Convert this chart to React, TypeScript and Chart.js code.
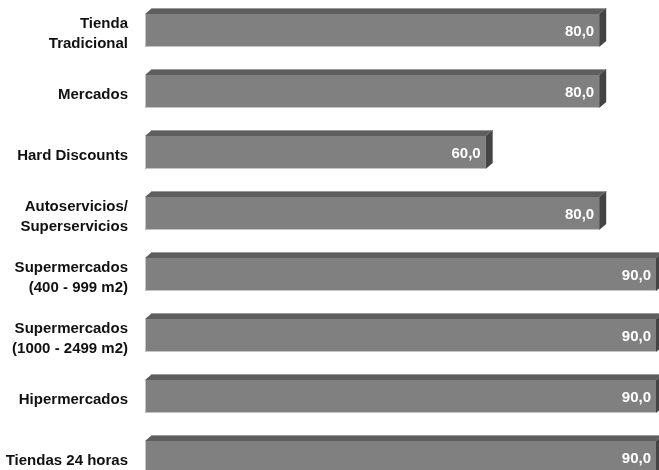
import React, { useEffect, useRef } from "react";
import { Chart, registerables } from "chart.js";

Chart.register(...registerables);

const categories: (string | string[])[] = [
  ["Tienda", "Tradicional"],
  "Mercados",
  "Hard Discounts",
  ["Autoservicios/", "Superservicios"],
  ["Supermercados", "(400 - 999 m2)"],
  ["Supermercados", "(1000 - 2499 m2)"],
  "Hipermercados",
  "Tiendas 24 horas",
];
const values: number[] = [80, 80, 60, 80, 90, 90, 90, 90];

const FONT = "'Liberation Sans', Arial, sans-serif";

const bar3d = {
  id: "bar3d",
  afterDatasetsDraw(chart: any) {
    const ctx = chart.ctx;
    const meta = chart.getDatasetMeta(0);
    const dx = 7;
    const dy = 6;
    ctx.save();
    meta.data.forEach((el: any, i: number) => {
      const p = el.getProps(["x", "y", "base", "height"], true);
      const left = Math.min(p.base, p.x);
      const right = Math.max(p.base, p.x);
      const top = p.y - p.height / 2;
      const bottom = p.y + p.height / 2;
      // top face
      ctx.beginPath();
      ctx.moveTo(left, top);
      ctx.lineTo(left + dx, top - dy);
      ctx.lineTo(right + dx, top - dy);
      ctx.lineTo(right, top);
      ctx.closePath();
      ctx.fillStyle = "#5e5e5e";
      ctx.fill();
      // light top edge
      ctx.beginPath();
      ctx.moveTo(left + dx, top - dy + 0.5);
      ctx.lineTo(right + dx, top - dy + 0.5);
      ctx.strokeStyle = "#9a9a9a";
      ctx.lineWidth = 1;
      ctx.stroke();
      // side face
      ctx.beginPath();
      ctx.moveTo(right, top);
      ctx.lineTo(right + dx, top - dy);
      ctx.lineTo(right + dx, bottom - dy);
      ctx.lineTo(right, bottom);
      ctx.closePath();
      ctx.fillStyle = "#444444";
      ctx.fill();
      // light bottom / left edges of front
      ctx.beginPath();
      ctx.moveTo(left + 0.5, top);
      ctx.lineTo(left + 0.5, bottom - 0.5);
      ctx.lineTo(right, bottom - 0.5);
      ctx.strokeStyle = "#c4c4c4";
      ctx.stroke();
      // value label
      ctx.fillStyle = "#ffffff";
      ctx.font = `bold 15px ${FONT}`;
      ctx.textAlign = "right";
      ctx.textBaseline = "middle";
      ctx.fillText(values[i].toFixed(1).replace(".", ","), right - 5, p.y + 1);
    });
    ctx.restore();
  },
};

export default function App() {
  const ref = useRef<HTMLCanvasElement | null>(null);
  useEffect(() => {
    if (!ref.current) return;
    const chart = new Chart(ref.current, {
      type: "bar",
      data: {
        labels: categories,
        datasets: [
          {
            data: values,
            backgroundColor: "#808080",
            borderWidth: 0,
            barPercentage: 1,
            categoryPercentage: 33 / 61,
          },
        ],
      },
      options: {
        indexAxis: "y",
        responsive: false,
        animation: false,
        layout: { padding: 0 },
        plugins: {
          legend: { display: false },
          tooltip: { enabled: false },
          title: { display: false },
        },
        scales: {
          x: {
            display: false,
            min: 0,
            max: 90.53,
          },
          y: {
            grid: { display: false, drawTicks: false },
            border: { display: false },
            ticks: {
              color: "#111111",
              padding: 17,
              labelOffset: 3,
              font: { family: FONT, size: 15, weight: "bold", lineHeight: 1.35 },
            },
            afterFit(axis: any) {
              axis.width = 145;
              axis.paddingTop = 0;
              axis.paddingBottom = 0;
            },
          },
        },
      },
      plugins: [bar3d],
    });
    return () => chart.destroy();
  }, []);
  return (
    <div
      style={{
        position: "absolute",
        left: 0,
        top: 0,
        width: 659,
        height: 470,
        overflow: "hidden",
        background: "#ffffff",
      }}
    >
      <canvas ref={ref} width={659} height={488} style={{ display: "block" }} />
    </div>
  );
}
